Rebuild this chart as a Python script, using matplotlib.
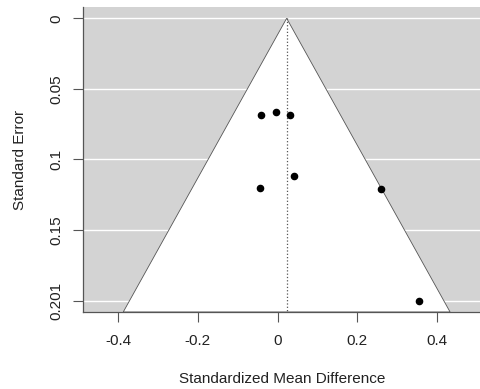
import numpy as np
import matplotlib.pyplot as plt
from matplotlib.patches import Polygon

plt.rcParams['font.family'] = ['Liberation Sans', 'DejaVu Sans']

# study effects and their standard errors
smd = [-0.043, -0.003, 0.032, 0.040, -0.045, 0.259, 0.354]
se = [0.0688, 0.0669, 0.0688, 0.112, 0.121, 0.1213, 0.201]
pooled = 0.0226
y_ticks = list(np.linspace(0, 0.201, 5))
y_labels = ['0', '0.05', '0.1', '0.15', '0.201']
x_ticks = [-0.4, -0.2, 0, 0.2, 0.4]
x_labels = ['-0.4', '-0.2', '0', '0.2', '0.4']

fig = plt.figure(figsize=(4.81, 3.89), dpi=100)
ax = fig.add_axes([0.1726, 0.198, 0.83, 0.784])

ylo, yhi = -0.00804, 0.20904
ax.set_xlim(-0.488, 0.513)
ax.set_ylim(yhi, ylo)
ax.set_facecolor('#d3d3d3')

# white horizontal lines at the ticks
for t in y_ticks:
    ax.axhline(t, color='white', lw=1, zorder=1)

# funnel region
funnel = Polygon([[pooled - 1.96 * yhi, yhi], [pooled, 0], [pooled + 1.96 * yhi, yhi]],
                 closed=True, facecolor='white', edgecolor='#555555', lw=0.6, zorder=2)
ax.add_patch(funnel)
ax.plot([pooled, pooled], [0, yhi], color='#555555', ls=':', lw=0.9, zorder=3)

ax.scatter(smd, se, s=20, color='black', zorder=4)

ax.set_yticks(y_ticks)
ax.set_yticklabels(y_labels, rotation=90, va='center')
ax.set_xticks(x_ticks)
ax.set_xticklabels(x_labels)
ax.tick_params(axis='x', direction='out', length=7, width=0.8, color='#555555',
               labelsize=11, pad=9, labelcolor='#222222')
ax.tick_params(axis='y', direction='out', length=7, width=0.8, color='#555555',
               labelsize=11, pad=7, labelcolor='#222222')

for s in ['top', 'right']:
    ax.spines[s].set_visible(False)
for s in ['left', 'bottom']:
    ax.spines[s].set_color('#555555')
    ax.spines[s].set_linewidth(0.9)

ax.set_xlabel('Standardized Mean Difference', fontsize=11, labelpad=17, color='#222222')
ax.set_ylabel('Standard Error', fontsize=11, labelpad=16, color='#222222')

fig.savefig('out.png', dpi=100)
